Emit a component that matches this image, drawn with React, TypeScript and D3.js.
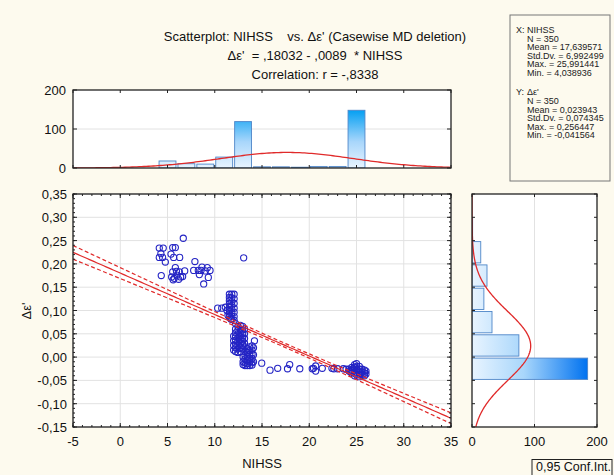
import React from "react";
import * as d3 from "d3";

const W = 614;
const H = 475;
const FONT = "'Liberation Sans', Arial, sans-serif";

// histogram of NIHSS (bin starts, width 2)
const nihssBinStarts = [4, 6, 8, 10, 12, 14, 16, 18, 20, 22, 24];
const nihssCounts = [18, 11, 10, 28, 119, 3, 3, 2, 4, 4, 148];
// histogram of delta epsilon (bin starts, width 0.05)
const deltaBinStarts = [-0.05, 0, 0.05, 0.1, 0.15, 0.2, 0.25];
const deltaCounts = [185, 75, 32, 19, 24, 14, 1];

// summary stats shown in the box
const statN = 350;
const statMeanX = 17.639571;
const statSdX = 6.992499;
const statMeanY = 0.023943;
const statSdY = 0.074345;
const regA = 0.18032;
const regB = -0.0089;
const corrR = -0.8338;

const statLinesX = ["N = 350", "Mean = 17,639571", "Std.Dv. = 6,992499", "Max. = 25,991441", "Min. = 4,038936"];
const statLinesY = ["N = 350", "Mean = 0,023943", "Std.Dv. = 0,074345", "Max. = 0,256447", "Min. = -0,041564"];

const xTicks = [-5, 0, 5, 10, 15, 20, 25, 30, 35];
const yTicks = [-0.15, -0.1, -0.05, 0, 0.05, 0.1, 0.15, 0.2, 0.25, 0.3, 0.35];
const countTicks = [0, 100, 200];

// NIHSS, delta epsilon
const points: [number, number][] = [
  // low NIHSS group
  [4.13, 0.234], [4.55, 0.234], [5.55, 0.235], [5.83, 0.235], [4.13, 0.214], [4.48, 0.214],
  [4.77, 0.204], [5.37, 0.221], [5.65, 0.214], [6.29, 0.214], [6.67, 0.255], [4.34, 0.175],
  [5.83, 0.192], [5.55, 0.183], [6.25, 0.183], [5.44, 0.172], [5.72, 0.169], [5.6, 0.166],
  [6.18, 0.167], [6.39, 0.172], [6.6, 0.173], [6.82, 0.185], [6.0, 0.176], [4.3, 0.222], [5.95, 0.184],
  [7.9, 0.205], [7.77, 0.186], [8.26, 0.186], [8.55, 0.186], [8.65, 0.193], [8.37, 0.177],
  [8.83, 0.157], [9.21, 0.192], [9.5, 0.186], [9.32, 0.171], [9.0, 0.185],
  [13.06, 0.213],
  // 10-12
  [10.31, 0.105], [10.74, 0.105], [11.12, 0.107], [11.3, 0.1], [11.4, 0.09], [11.7, 0.082], [12.2, 0.072],
  [11.55, 0.135], [11.55, 0.128], [11.55, 0.121], [11.55, 0.114], [11.55, 0.107], [11.55, 0.1], [11.55, 0.093], [11.55, 0.086],
  [11.8, 0.135], [11.8, 0.127], [11.8, 0.119], [11.8, 0.111], [11.8, 0.103], [11.8, 0.095], [11.8, 0.088], [11.8, 0.081],
  [12.05, 0.135], [12.05, 0.125], [12.05, 0.115], [12.05, 0.105], [12.05, 0.096], [12.05, 0.087], [12.05, 0.079],
  // 12-13.3
  [12.0, 0.045], [12.0, 0.035], [12.0, 0.025], [12.0, 0.015],
  [12.2, 0.06], [12.2, 0.052], [12.2, 0.044], [12.2, 0.036], [12.2, 0.028], [12.2, 0.02], [12.2, 0.012],
  [12.45, 0.066], [12.45, 0.058], [12.45, 0.05], [12.45, 0.042], [12.45, 0.034], [12.45, 0.026], [12.45, 0.018], [12.45, 0.01],
  [12.7, 0.068], [12.7, 0.06], [12.7, 0.052], [12.7, 0.044], [12.7, 0.036], [12.7, 0.028], [12.7, 0.02], [12.7, 0.012],
  [12.95, 0.066], [12.95, 0.058], [12.95, 0.05], [12.95, 0.042], [12.95, 0.034], [12.95, 0.026], [12.95, 0.018],
  [13.15, 0.06], [13.15, 0.05], [13.15, 0.04], [13.15, 0.03],
  // 13-14.2
  [13.0, 0.0], [13.0, -0.01], [13.0, -0.016],
  [13.2, 0.022], [13.2, 0.012], [13.2, 0.004], [13.2, -0.004], [13.2, -0.012], [13.2, -0.018],
  [13.45, 0.018], [13.45, 0.01], [13.45, 0.002], [13.45, -0.006], [13.45, -0.014], [13.45, -0.018],
  [13.7, 0.022], [13.7, 0.014], [13.7, 0.006], [13.7, -0.002], [13.7, -0.01], [13.7, -0.018],
  [13.95, 0.024], [13.95, 0.015], [13.95, 0.006], [13.95, -0.003], [13.95, -0.012], [13.95, -0.017],
  [14.1, 0.02], [14.1, 0.005], [14.1, -0.01], [14.2, 0.035], [14.97, -0.013],
  // tail
  [15.85, -0.028], [16.66, -0.024], [17.7, -0.025], [17.93, -0.016], [19.0, -0.025], [20.32, -0.025],
  [20.45, -0.024], [20.68, -0.03], [20.68, -0.019], [21.38, -0.024], [22.4, -0.024], [22.6, -0.025],
  [23.0, -0.025], [23.6, -0.025], [23.9, -0.026],
  // 24-26
  [24.2, -0.026], [24.2, -0.03], [24.5, -0.022], [24.5, -0.028], [24.5, -0.034],
  [24.8, -0.016], [24.8, -0.022], [24.8, -0.028], [24.8, -0.034], [24.8, -0.04],
  [25.0, -0.014], [25.0, -0.02], [25.0, -0.026], [25.0, -0.032], [25.0, -0.038],
  [25.3, -0.02], [25.3, -0.026], [25.3, -0.032], [25.3, -0.038], [25.3, -0.042],
  [25.6, -0.026], [25.6, -0.032], [25.6, -0.038], [25.85, -0.028], [25.85, -0.034], [25.85, -0.04],
  [26.0, -0.03], [26.0, -0.036], [24.65, -0.025], [25.15, -0.029], [25.45, -0.035], [24.35, -0.031],
];

const fmtY = (v: number) => {
  const s = Math.abs(v).toFixed(2).replace(".", ",");
  return v < -1e-9 ? "-" + s : s;
};

// layout
const mainL = 73, mainR = 451, mainT = 194, mainB = 427;
const topT = 90, topB = 168;
const rhL = 472, rhR = 597;

export default function App() {
  const x = d3.scaleLinear().domain([-5, 35]).range([mainL, mainR]);
  const y = d3.scaleLinear().domain([-0.15, 0.35]).range([mainB, mainT]);
  const yCount = d3.scaleLinear().domain([0, 200]).range([topB, topT]);
  const xCount = d3.scaleLinear().domain([0, 200]).range([rhL, rhR]);

  const pdf = (v: number, m: number, s: number) => Math.exp(-0.5 * ((v - m) / s) ** 2) / (s * Math.sqrt(2 * Math.PI));

  const xs = d3.range(-5, 35.01, 0.25);
  const topCurve = d3.line<number>().x((v) => x(v)).y((v) => yCount(statN * 2 * pdf(v, statMeanX, statSdX)))(xs) || "";
  const ys = d3.range(-0.15, 0.3501, 0.0025);
  const rightCurve = d3.line<number>().x((v) => xCount(statN * 0.05 * pdf(v, statMeanY, statSdY))).y((v) => y(v))(ys) || "";

  // regression with 95% confidence band
  const se = statSdY * Math.sqrt(1 - corrR * corrR) * Math.sqrt((statN - 1) / (statN - 2));
  const sxx = (statN - 1) * statSdX * statSdX;
  const band = (v: number) => 1.967 * se * Math.sqrt(1 / statN + (v - statMeanX) ** 2 / sxx);
  const regLine = (k: number) =>
    d3.line<number>().x((v) => x(v)).y((v) => y(regA + regB * v + k * band(v)))(xs) || "";

  const minorX = d3.range(-5, 35.01, 1);
  const minorY = d3.range(-0.15, 0.3501, 0.01);

  const frame = (l: number, t: number, r: number, b: number) => (
    <rect x={l} y={t} width={r - l} height={b - t} fill="none" stroke="#222" strokeWidth={1.3} />
  );

  const tick = { stroke: "#222", strokeWidth: 1 };

  return (
    <svg width={W} height={H} style={{ position: "absolute", left: 0, top: 0 }} fontFamily={FONT}>
      <defs>
        <linearGradient id="gTop" gradientUnits="userSpaceOnUse" x1={0} y1={yCount(0)} x2={0} y2={yCount(150)}>
          <stop offset="0" stopColor="#e8f4ff" />
          <stop offset="0.45" stopColor="#a8d6fb" />
          <stop offset="1" stopColor="#009ef2" />
        </linearGradient>
        <linearGradient id="gRight" gradientUnits="userSpaceOnUse" x1={xCount(0)} y1={0} x2={xCount(185)} y2={0}>
          <stop offset="0" stopColor="#e8f4ff" />
          <stop offset="0.45" stopColor="#a8d6fb" />
          <stop offset="1" stopColor="#0072f0" />
        </linearGradient>
        <clipPath id="cTop"><rect x={mainL} y={topT} width={mainR - mainL} height={topB - topT} /></clipPath>
        <clipPath id="cMain"><rect x={mainL} y={mainT} width={mainR - mainL} height={mainB - mainT} /></clipPath>
        <clipPath id="cRight"><rect x={rhL} y={mainT} width={rhR - rhL} height={mainB - mainT} /></clipPath>
      </defs>
      <rect x={0} y={0} width={W} height={H} fill="#fdfaee" />

      {/* titles */}
      <g fontSize={13} fill="#111" textAnchor="middle">
        <text x={315} y={41} style={{ whiteSpace: "pre" }}>{"Scatterplot: NIHSS    vs. Δε' (Casewise MD deletion)"}</text>
        <text x={315} y={60} style={{ whiteSpace: "pre" }}>{"Δε'  = ,18032 - ,0089  * NIHSS"}</text>
        <text x={315} y={79}>Correlation: r = -,8338</text>
      </g>

      {/* stats box */}
      <rect x={510} y={15} width={100} height={166} fill="#fdfaee" stroke="#777" strokeWidth={1} />
      <g fontSize={9} fill="#222">
        <text x={516} y={33}>X:</text>
        <text x={527} y={33}>NIHSS</text>
        {statLinesX.map((s, i) => (
          <text key={"x" + i} x={527} y={41.5 + i * 8.5}>{s}</text>
        ))}
        <text x={516} y={95}>Y:</text>
        <text x={527} y={95}>Δε'</text>
        {statLinesY.map((s, i) => (
          <text key={"y" + i} x={527} y={104 + i * 8.5}>{s}</text>
        ))}
      </g>

      {/* top histogram */}
      <rect x={mainL} y={topT} width={mainR - mainL} height={topB - topT} fill="#fff" />
      <line x1={mainL} x2={mainR} y1={yCount(100)} y2={yCount(100)} stroke="#e2e2e2" />
      <g clipPath="url(#cTop)">
        {nihssBinStarts.map((b, i) => (
          <rect key={i} x={x(b) + 1} width={x(b + 2) - x(b) - 2} y={yCount(nihssCounts[i])}
            height={yCount(0) - yCount(nihssCounts[i])} fill="url(#gTop)" stroke="#4f86c8" strokeWidth={0.9} />
        ))}
        <path d={topCurve} fill="none" stroke="#e02a2a" strokeWidth={1.3} />
      </g>
      {xTicks.map((t) => (
        <g key={"tt" + t}>
          <line x1={x(t)} x2={x(t)} y1={topB} y2={topB - 3} {...tick} />
          <line x1={x(t)} x2={x(t)} y1={topT} y2={topT + 3} {...tick} />
        </g>
      ))}
      {countTicks.map((t) => (
        <g key={"tc" + t}>
          <line x1={mainL} x2={mainL + 4} y1={yCount(t)} y2={yCount(t)} {...tick} />
          <line x1={mainR} x2={mainR - 4} y1={yCount(t)} y2={yCount(t)} {...tick} />
          <text x={66} y={yCount(t) + 5} fontSize={13} textAnchor="end" fill="#111">{t}</text>
        </g>
      ))}
      {frame(mainL, topT, mainR, topB)}

      {/* main scatter */}
      <rect x={mainL} y={mainT} width={mainR - mainL} height={mainB - mainT} fill="#fff" />
      {xTicks.map((t) => (
        <line key={"gx" + t} x1={x(t)} x2={x(t)} y1={mainT} y2={mainB} stroke="#e2e2e2" />
      ))}
      {yTicks.map((t) => (
        <line key={"gy" + t} x1={mainL} x2={mainR} y1={y(t)} y2={y(t)} stroke="#e2e2e2" />
      ))}
      <g clipPath="url(#cMain)">
        {points.map(([px, py], i) => (
          <circle key={i} cx={x(px)} cy={y(py)} r={3.1} fill="none" stroke="#2424c4" strokeWidth={1.1} />
        ))}
        <path d={regLine(0)} fill="none" stroke="#e02a2a" strokeWidth={1.2} />
        <path d={regLine(1)} fill="none" stroke="#e02a2a" strokeWidth={1.2} strokeDasharray="4,2.5" />
        <path d={regLine(-1)} fill="none" stroke="#e02a2a" strokeWidth={1.2} strokeDasharray="4,2.5" />
      </g>
      {minorX.map((t) => (
        <g key={"mx" + t}>
          <line x1={x(t)} x2={x(t)} y1={mainB} y2={mainB - 2} {...tick} />
          <line x1={x(t)} x2={x(t)} y1={mainT} y2={mainT + 2} {...tick} />
        </g>
      ))}
      {minorY.map((t, i) => (
        <g key={"my" + i}>
          <line x1={mainL} x2={mainL + 2} y1={y(t)} y2={y(t)} {...tick} />
          <line x1={mainR} x2={mainR - 2} y1={y(t)} y2={y(t)} {...tick} />
        </g>
      ))}
      {xTicks.map((t) => (
        <g key={"xt" + t}>
          <line x1={x(t)} x2={x(t)} y1={mainB} y2={mainB - 4} {...tick} />
          <line x1={x(t)} x2={x(t)} y1={mainT} y2={mainT + 4} {...tick} />
          <text x={x(t)} y={446} fontSize={13} textAnchor="middle" fill="#111">{t}</text>
        </g>
      ))}
      {yTicks.map((t) => (
        <g key={"yt" + t}>
          <line x1={mainL} x2={mainL + 4} y1={y(t)} y2={y(t)} {...tick} />
          <line x1={mainR} x2={mainR - 4} y1={y(t)} y2={y(t)} {...tick} />
          <text x={67} y={y(t) + 5} fontSize={13} textAnchor="end" fill="#111">{fmtY(t)}</text>
        </g>
      ))}
      {frame(mainL, mainT, mainR, mainB)}
      <text x={262} y={468} fontSize={13} textAnchor="middle" fill="#111">NIHSS</text>
      <text transform="translate(31,311) rotate(-90)" fontSize={13} textAnchor="middle" fill="#111">Δε'</text>

      {/* right histogram */}
      <rect x={rhL} y={mainT} width={rhR - rhL} height={mainB - mainT} fill="#fff" />
      <line x1={xCount(100)} x2={xCount(100)} y1={mainT} y2={mainB} stroke="#e2e2e2" />
      <g clipPath="url(#cRight)">
        {deltaBinStarts.map((b, i) => (
          <rect key={i} x={xCount(0)} width={xCount(deltaCounts[i]) - xCount(0)} y={y(b + 0.05) + 1}
            height={y(b) - y(b + 0.05) - 2} fill="url(#gRight)" stroke="#4f86c8" strokeWidth={0.9} />
        ))}
        <path d={rightCurve} fill="none" stroke="#e02a2a" strokeWidth={1.3} />
      </g>
      {yTicks.map((t) => (
        <g key={"ry" + t}>
          <line x1={rhL} x2={rhL + 3} y1={y(t)} y2={y(t)} {...tick} />
          <line x1={rhR} x2={rhR - 3} y1={y(t)} y2={y(t)} {...tick} />
        </g>
      ))}
      {countTicks.map((t) => (
        <g key={"rc" + t}>
          <line x1={xCount(t)} x2={xCount(t)} y1={mainT} y2={mainT + 3} {...tick} />
          <line x1={xCount(t)} x2={xCount(t)} y1={mainB} y2={mainB - 3} {...tick} />
          <text x={xCount(t)} y={446} fontSize={13} textAnchor="middle" fill="#111">{t}</text>
        </g>
      ))}
      {frame(rhL, mainT, rhR, mainB)}

      {/* legend */}
      <rect x={532} y={459.5} width={80} height={20} fill="#fdfaee" stroke="#222" strokeWidth={1} />
      <text x={536} y={471} fontSize={12.5} fill="#111">0,95 Conf.Int.</text>
    </svg>
  );
}
